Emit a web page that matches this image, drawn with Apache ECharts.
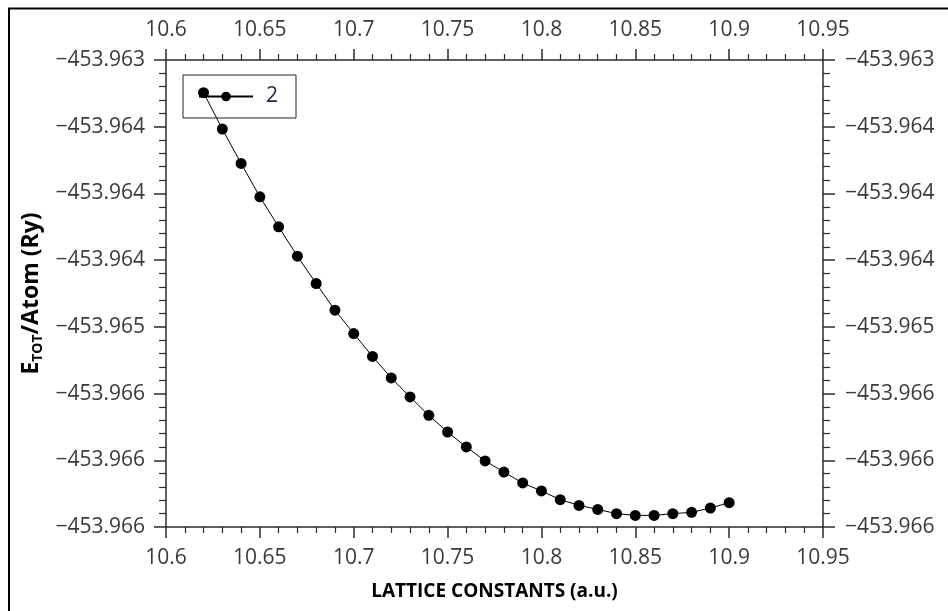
<!DOCTYPE html>
<html>
<head>
<meta charset="utf-8">
<script src="https://cdn.jsdelivr.net/npm/echarts@6/dist/echarts.min.js"></script>
<style>
  html, body { margin: 0; padding: 0; background: #fff; }
  #chart { width: 948px; height: 611px; }
</style>
</head>
<body>
<div id="chart"></div>
<script>
// lattice constant (a.u.)
const latticeX = [10.62, 10.63, 10.64, 10.65, 10.66, 10.67, 10.68, 10.69, 10.70, 10.71,
  10.72, 10.73, 10.74, 10.75, 10.76, 10.77, 10.78, 10.79, 10.80, 10.81,
  10.82, 10.83, 10.84, 10.85, 10.86, 10.87, 10.88, 10.89, 10.90];
// total energy per atom (Ry)
const energyY = [-453.963245, -453.963518, -453.963775, -453.964025, -453.96425,
  -453.96447, -453.964675, -453.964875, -453.96505, -453.965222,
  -453.965383, -453.965525, -453.965663, -453.965788, -453.9659,
  -453.966005, -453.966088, -453.96617, -453.96623, -453.966295,
  -453.966338, -453.966368, -453.9664, -453.966413, -453.966413,
  -453.9664, -453.96639, -453.966358, -453.966318];
// y tick labels as printed, top to bottom
const yTickLabels = ['−453.963', '−453.964', '−453.964', '−453.964',
  '−453.965', '−453.966', '−453.966', '−453.966'];
const seriesName = '2';

const xMin = 10.6, xMax = 10.95, xStep = 0.05;
const yMin = -453.9665, yMax = -453.963, yStep = 0.0005;

const font = 'Open Sans';
const axisColor = '#2b2b2b';
const labelColor = '#3a3a3a';

function yLabel(v) {
  const idx = Math.round((yMax - v) / yStep);
  return yTickLabels[idx] !== undefined ? yTickLabels[idx] : '';
}

function xAxisOf(pos, extra) {
  return Object.assign({
    type: 'value',
    position: pos,
    min: xMin,
    max: xMax,
    interval: xStep,
    axisLine: { show: true, onZero: false, lineStyle: { color: axisColor, width: 1.5 } },
    axisTick: { show: true, inside: false, length: 11, lineStyle: { color: axisColor, width: 1.5 } },
    minorTick: { show: true, splitNumber: 5, length: 6, lineStyle: { color: axisColor, width: 1.2 } },
    splitLine: { show: false },
    axisLabel: { fontFamily: font, fontSize: 21, color: labelColor, margin: pos === 'top' ? 19 : 21 }
  }, extra || {});
}

function yAxisOf(pos, extra) {
  return Object.assign({
    type: 'value',
    position: pos,
    min: yMin,
    max: yMax,
    interval: yStep,
    axisLine: { show: true, onZero: false, lineStyle: { color: axisColor, width: 1.5 } },
    axisTick: { show: true, inside: false, length: 12, lineStyle: { color: axisColor, width: 1.5 } },
    minorTick: { show: true, splitNumber: 5, length: 7, lineStyle: { color: axisColor, width: 1.2 } },
    splitLine: { show: false },
    axisLabel: { fontFamily: font, fontSize: 21, color: labelColor, margin: pos === 'left' ? 21 : 22, formatter: yLabel }
  }, extra || {});
}

const chart = echarts.init(document.getElementById('chart'));
chart.setOption({
  animation: false,
  backgroundColor: '#fff',
  graphic: [{
    type: 'rect',
    shape: { x: 9, y: 8.5, width: 1200, height: 1200 },
    style: { fill: 'none', stroke: '#000', lineWidth: 2 },
    silent: true
  }],
  grid: { left: 166, top: 60, width: 657, height: 467 },
  legend: {
    left: 183,
    top: 75,
    orient: 'vertical',
    padding: [11, 18, 11, 15],
    borderColor: '#222',
    borderWidth: 1,
    itemWidth: 54,
    itemHeight: 12,
    textStyle: { fontFamily: font, fontSize: 21, color: '#1e2340', padding: [0, 0, 0, 8] },
    data: [seriesName]
  },
  xAxis: [
    xAxisOf('bottom', {
      name: 'LATTICE CONSTANTS (a.u.)',
      nameLocation: 'middle',
      nameGap: 55,
      nameTextStyle: { fontFamily: font, fontSize: 19, fontWeight: 'bold', color: '#000' }
    }),
    xAxisOf('top')
  ],
  yAxis: [
    yAxisOf('left', {
      name: '{b|E}{s|TOT}{b|/Atom (Ry)}',
      nameLocation: 'middle',
      nameGap: 121,
      nameTextStyle: {
        rich: {
          b: { fontFamily: font, fontSize: 23, fontWeight: 'bold', color: '#000', lineHeight: 26 },
          s: { fontFamily: font, fontSize: 14, fontWeight: 'bold', color: '#000', lineHeight: 16, verticalAlign: 'bottom' }
        }
      }
    }),
    yAxisOf('right')
  ],
  series: [{
    name: seriesName,
    type: 'line',
    xAxisIndex: 0,
    yAxisIndex: 0,
    data: latticeX.map((x, i) => [x, energyY[i]]),
    symbol: 'circle',
    symbolSize: 11,
    itemStyle: { color: '#000' },
    lineStyle: { color: '#000', width: 1 }
  }]
});
</script>
</body>
</html>
